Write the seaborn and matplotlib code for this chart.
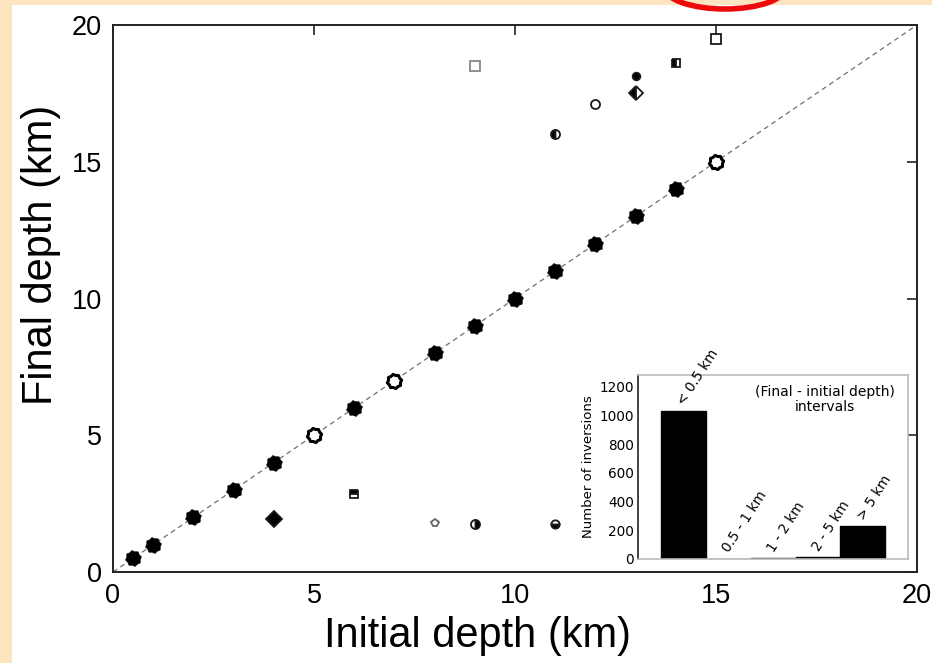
import matplotlib
matplotlib.use("Agg")
import matplotlib.pyplot as plt
from matplotlib.patches import Rectangle, Ellipse
from matplotlib.path import Path
import numpy as np
import pandas as pd
import seaborn as sns

# Depths recovered along the 1:1 line (km)
initial_on_line = [0.5, 1, 2, 3, 4, 5, 6, 7, 8, 9, 10, 11, 12, 13, 14, 15]
final_on_line = [0.5, 1, 2, 3, 4, 5, 6, 7, 8, 9, 10, 11, 12, 13, 14, 15]
open_on_line = [False, False, False, False, False, True, False, True,
                False, False, False, False, False, False, False, True]

# Inversions that ended far from their starting depth (km)
initial_off = [9, 11, 12, 13, 13, 14, 15, 4, 6, 8, 9, 11]
final_off = [18.5, 16.0, 17.1, 18.15, 17.5, 18.6, 19.5, 1.95, 2.85, 1.8, 1.75, 1.75]
marker_off = ["s", "o", "o", "o", "D", "s", "s", "D", "s", "p", "o", "o"]
fill_off = ["none", "left", "none", "full", "left", "left", "none",
            "full", "top", "none", "right", "bottom"]
edge_off = ["#888888", "k", "k", "k", "k", "k", "k", "k", "k", "#666666", "k", "k"]
size_off = [6.5, 6.5, 6.5, 5.5, 7.5, 6, 6.5, 8, 6, 6, 6.5, 6]

# Histogram of (final - initial depth) intervals
intervals = ["< 0.5 km", "0.5 - 1 km", "1 - 2 km", "2 - 5 km", "> 5 km"]
counts = [1030, 2, 4, 12, 230]

sns.set_theme(style="white")
plt.rcParams["font.family"] = ["Liberation Sans", "DejaVu Sans"]
plt.rcParams["text.color"] = "black"
plt.rcParams["axes.labelcolor"] = "black"
plt.rcParams["xtick.color"] = "black"
plt.rcParams["ytick.color"] = "black"

fig = plt.figure(figsize=(9.32, 6.63), dpi=100)
fig.patch.set_facecolor("white")

# slide frame: peach strips and a red highlight ring at the top edge
W, H = 932, 663
fig.patches.append(Rectangle((0, 0), 12 / W, 1, transform=fig.transFigure,
                             facecolor="#fde6bf", edgecolor="none", zorder=0))
fig.patches.append(Rectangle((0, 1 - 5 / H), 1, 5 / H, transform=fig.transFigure,
                             facecolor="#fde6bf", edgecolor="none", zorder=0))
fig.patches.append(Ellipse((725 / W, 1 + 13 / H), 122 / W, 44 / H,
                           transform=fig.transFigure, facecolor="none",
                           edgecolor="#ee0a0a", linewidth=4, zorder=1))

ax = fig.add_axes([113 / W, 1 - 572 / H, (917 - 113) / W, (572 - 25) / H])
ax.set_facecolor("white")

# jagged round marker for the on-line points
npts = 16
ang = np.linspace(0, 2 * np.pi, npts + 1)[:-1] + np.pi / 16
rad = np.where(np.arange(npts) % 2 == 0, 1.0, 0.84)
verts = np.column_stack([rad * np.cos(ang), rad * np.sin(ang)])
verts = np.vstack([verts, verts[:1]])
codes = [Path.MOVETO] + [Path.LINETO] * (npts - 1) + [Path.CLOSEPOLY]
blob = Path(verts, codes)

df_line = pd.DataFrame({"initial": initial_on_line, "final": final_on_line,
                        "open": open_on_line})

sns.lineplot(x=[0, 20], y=[0, 20], ax=ax, color="#707070", linewidth=0.9,
             dashes=(4, 3), zorder=1)

solid = df_line[~df_line["open"]]
hollow = df_line[df_line["open"]]
sns.scatterplot(data=solid, x="initial", y="final", ax=ax, marker=blob, s=130,
                color="black", edgecolor="black", linewidth=0.5, zorder=3)
sns.scatterplot(data=hollow, x="initial", y="final", ax=ax, marker=blob, s=105,
                color="white", edgecolor="black", linewidth=2.2, zorder=3)

for xi, yi, m, fs, ec, ms in zip(initial_off, final_off, marker_off, fill_off,
                                 edge_off, size_off):
    face = "black" if ec == "k" else "white"
    sns.lineplot(x=[xi], y=[yi], ax=ax, marker=m, linestyle="", fillstyle=fs,
                 markersize=ms, markerfacecolor=face, markerfacecoloralt="white",
                 markeredgecolor=ec, markeredgewidth=1.3, color=ec, zorder=4)

ax.set_xlim(0, 20)
ax.set_ylim(0, 20)
ax.set_xticks([0, 5, 10, 15, 20])
ax.set_yticks([0, 5, 10, 15, 20])
ax.tick_params(direction="in", length=7, width=1.2, color="#222222",
               top=True, right=True, labelsize=19.5, pad=8)
for side in ax.spines.values():
    side.set_color("#222222")
    side.set_linewidth(1.4)
ax.set_xlabel("Initial depth (km)", fontsize=30, labelpad=5)
ax.set_ylabel("Final depth (km)", fontsize=30, labelpad=8)
ax.xaxis.label.set_x(0.453)
ax.yaxis.label.set_y(0.58)

# inset histogram
ins = fig.add_axes([638 / W, 1 - 559 / H, (908 - 638) / W, (559 - 375) / H])
ins.set_facecolor("white")
df_bar = pd.DataFrame({"interval": intervals, "count": counts})
sns.barplot(data=df_bar, x="interval", y="count", ax=ins, color="black",
            width=1.0, edgecolor="black", linewidth=1, saturation=1)
ins.set_xlim(-1, 5)
ins.set_ylim(0, 1280)
ins.set_yticks(range(0, 1201, 200))
ins.set_xticks([])
ins.set_xlabel("")
ins.set_ylabel("Number of inversions", fontsize=9.5, family="DejaVu Sans", labelpad=3)
ins.tick_params(axis="y", labelsize=9.8, length=0, pad=3)
for lab in ins.get_yticklabels():
    lab.set_family("DejaVu Sans")
ins.spines["left"].set_color("#222222")
ins.spines["left"].set_linewidth(1.2)
for s in ("top", "right", "bottom"):
    ins.spines[s].set_color("#bbbbbb")
    ins.spines[s].set_linewidth(1.2)

for i, (lab, c) in enumerate(zip(intervals, counts)):
    ins.text(i + 0.08, c + 25, lab, rotation=57, rotation_mode="anchor",
             ha="left", va="bottom", fontsize=9.8, family="DejaVu Sans")

ins.text(3.15, 1110, "(Final - initial depth)\nintervals", ha="center", va="center",
         fontsize=10, family="DejaVu Sans", linespacing=1.15)

fig.savefig("out.png", dpi=100, facecolor=fig.get_facecolor())
